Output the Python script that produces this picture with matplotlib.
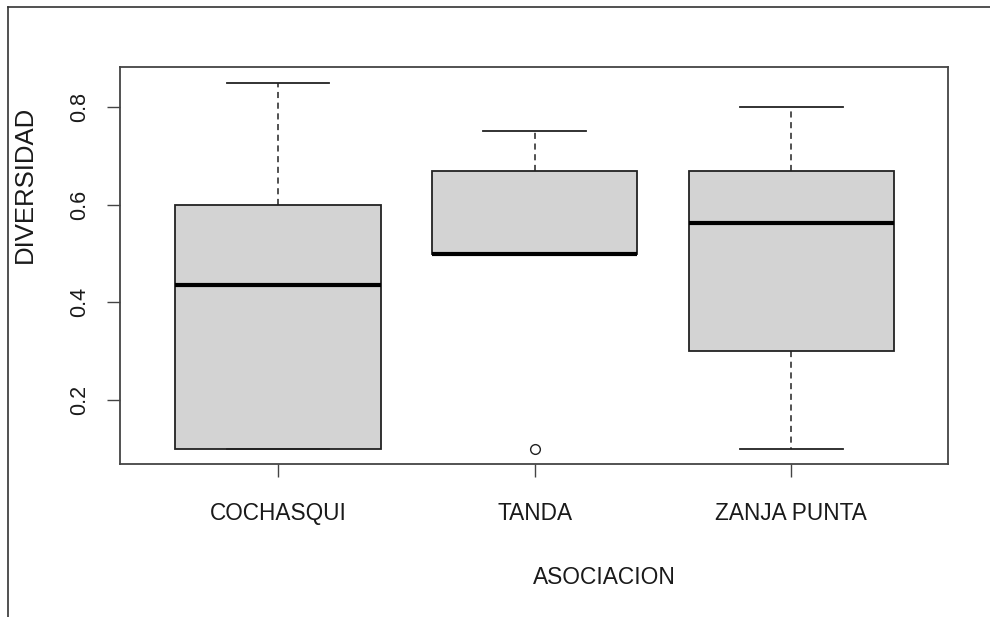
import numpy as np
import matplotlib.pyplot as plt
from matplotlib.lines import Line2D

plt.rcParams['font.family'] = ['Liberation Sans', 'DejaVu Sans']

# data
groups = ['COCHASQUI', 'TANDA', 'ZANJA PUNTA']
whislo = [0.10, 0.50, 0.10]
q1 = [0.10, 0.50, 0.30]
med = [0.435, 0.50, 0.5625]
q3 = [0.60, 0.67, 0.67]
whishi = [0.85, 0.75, 0.80]
outliers = [[], [0.10], []]

stats = []
for i in range(len(groups)):
    stats.append(dict(label=groups[i], whislo=whislo[i], q1=q1[i], med=med[i],
                      q3=q3[i], whishi=whishi[i], fliers=outliers[i]))

W, H = 990, 617
fig = plt.figure(figsize=(W/100, H/100), dpi=100)
ax = fig.add_axes([120/W, 1-464/H, (948-120)/W, (464-67)/H])

ax.bxp(stats, positions=[1, 2, 3], widths=0.8, patch_artist=True,
       boxprops=dict(facecolor='#d3d3d3', edgecolor='#222222', linewidth=1.3),
       medianprops=dict(color='black', linewidth=3),
       whiskerprops=dict(color='#222222', linestyle=(0, (4, 3)), linewidth=1.1),
       capprops=dict(color='#222222', linewidth=1.3),
       capwidths=0.4,
       flierprops=dict(marker='o', markerfacecolor='white', markeredgecolor='#222222',
                       markersize=7, markeredgewidth=1))

ax.set_xlim(0.385, 3.61)
ax.set_ylim(0.069, 0.882)
ax.set_yticks([0.2, 0.4, 0.6, 0.8])
ax.set_yticklabels(['0.2', '0.4', '0.6', '0.8'], rotation=90, va='center')
ax.tick_params(axis='both', length=9.5, width=1, color='#444444', labelcolor='#1a1a1a')
ax.tick_params(axis='x', pad=18, labelsize=16.3)
ax.tick_params(axis='y', pad=12, labelsize=15.5)
for s in ax.spines.values():
    s.set_color('#444444')
    s.set_linewidth(1.3)

# axis titles placed where they sit in the picture
fig.text(604/W, 1-577/H, 'ASOCIACION', fontsize=16.4, color='#1a1a1a', ha='center', va='center')
fig.text(25/W, 1-184/H, 'DIVERSIDAD', fontsize=18.5, color='#1a1a1a', ha='center', va='center', rotation=90)

# outer frame lines (top and left)
fig.add_artist(Line2D([8/W, 1], [1-7/H, 1-7/H], transform=fig.transFigure, color='#333333', linewidth=1.2))
fig.add_artist(Line2D([8/W, 8/W], [0, 1-7/H], transform=fig.transFigure, color='#333333', linewidth=1.2))

fig.savefig('out.png', dpi=100)
